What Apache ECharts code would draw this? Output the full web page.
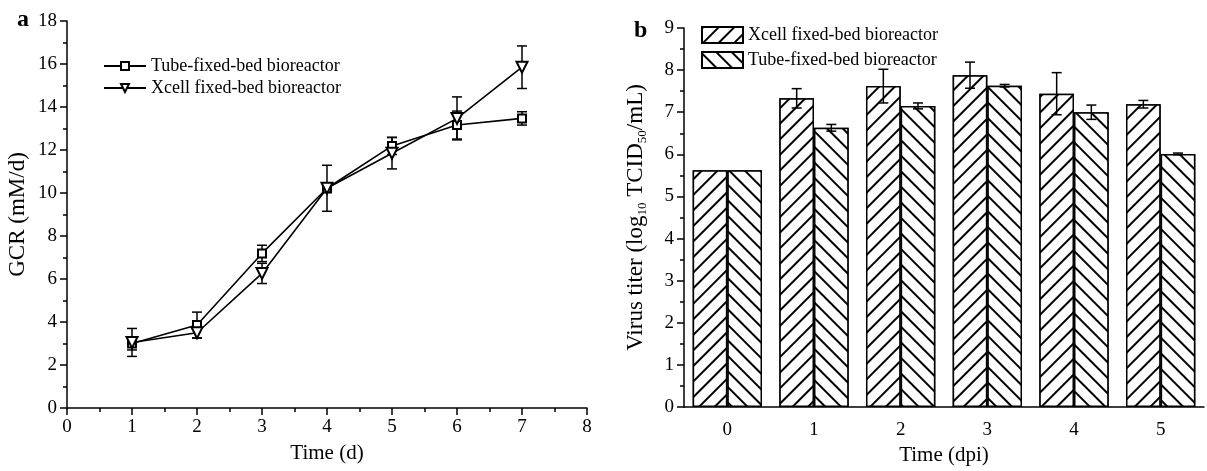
<!DOCTYPE html>
<html>
<head>
<meta charset="utf-8">
<script src="https://cdn.jsdelivr.net/npm/echarts@6/dist/echarts.min.js"></script>
<style>
  html, body { margin: 0; padding: 0; background: #fff; }
  #chart { width: 1207px; height: 471px; }
</style>
</head>
<body>
<div id="chart"></div>
<script>
// panel a: GCR vs time
var days = [1, 2, 3, 4, 5, 6, 7];
var tubeGcr = [3.0, 3.86, 7.19, 10.22, 12.19, 13.16, 13.47];
var tubeGcrErr = [0.3, 0.6, 0.38, 0.2, 0.4, 0.65, 0.31];
var xcellGcr = [3.05, 3.5, 6.26, 10.22, 11.85, 13.47, 15.85];
var xcellGcrErr = [0.65, 0.25, 0.47, 1.07, 0.73, 1.0, 0.99];

// panel b: virus titer
var dpi = ['0', '1', '2', '3', '4', '5'];
var xcellTiter = [5.62, 7.33, 7.62, 7.88, 7.44, 7.19];
var xcellTiterErr = [0, 0.23, 0.4, 0.31, 0.5, 0.09];
var tubeTiter = [5.62, 6.63, 7.15, 7.63, 7.0, 6.01];
var tubeTiterErr = [0, 0.08, 0.07, 0.03, 0.17, 0.02];

var FONT = "'Liberation Serif', 'Times New Roman', serif";

var chart = echarts.init(document.getElementById('chart'));

function pairs(xs, ys, es) {
  return xs.map(function (x, i) { return [x, ys[i], es[i]]; });
}

// draws an I-shaped error bar, shifted sideways for grouped bars
function errorBar(side) {
  return function (params, api) {
    var e = api.value(2);
    if (!e) return null;
    var x = api.value(0), y = api.value(1);
    var hi = api.coord([x, y + e]);
    var lo = api.coord([x, y - e]);
    var dx = 0;
    if (side) dx = side * api.size([1, 0])[0] * 0.8 / 4;
    var cx = hi[0] + dx, cap = 5;
    var st = { stroke: '#000', lineWidth: 1.5 };
    return {
      type: 'group',
      children: [
        { type: 'line', shape: { x1: cx, y1: hi[1], x2: cx, y2: lo[1] }, style: st },
        { type: 'line', shape: { x1: cx - cap, y1: hi[1], x2: cx + cap, y2: hi[1] }, style: st },
        { type: 'line', shape: { x1: cx - cap, y1: lo[1], x2: cx + cap, y2: lo[1] }, style: st }
      ]
    };
  };
}

var axisLine = { show: true, lineStyle: { color: '#000', width: 1.5 } };
var tickStyle = { lineStyle: { color: '#000', width: 1.5 } };
var labelStyle = { color: '#000', fontFamily: FONT, fontSize: 19 };
var xNameStyle = { color: '#000', fontFamily: FONT, fontSize: 21 };
var yNameStyle = { color: '#000', fontFamily: FONT, fontSize: 23 };

var xcellDecal = {
  symbol: 'rect', symbolSize: 1, dashArrayX: [1, 0], dashArrayY: [1.6, 8.4],
  rotation: -Math.PI / 4, color: '#000', backgroundColor: '#fff'
};
var tubeDecal = {
  symbol: 'rect', symbolSize: 1, dashArrayX: [1, 0], dashArrayY: [1.6, 8.4],
  rotation: Math.PI / 4, color: '#000', backgroundColor: '#fff'
};

var option = {
  backgroundColor: '#fff',
  animation: false,
  textStyle: { fontFamily: FONT },
  grid: [
    { left: 67, top: 21, width: 520, height: 387 },
    { left: 684, top: 28, width: 520, height: 387 }
  ],
  graphic: [
    { type: 'text', left: 17, top: 8, style: { text: 'a', fontFamily: FONT, fontSize: 24, fontWeight: 'bold', fill: '#000' } },
    { type: 'text', left: 634, top: 19, style: { text: 'b', fontFamily: FONT, fontSize: 24, fontWeight: 'bold', fill: '#000' } }
  ],
  legend: [
    {
      orient: 'vertical', left: 103, top: 57, itemGap: 4, padding: 0,
      itemWidth: 42, itemHeight: 10,
      textStyle: { color: '#000', fontFamily: FONT, fontSize: 18 },
      data: ['Tube-fixed-bed bioreactor', 'Xcell fixed-bed bioreactor']
    },
    {
      orient: 'vertical', left: 701, top: 26, itemGap: 7, padding: 0,
      itemWidth: 41, itemHeight: 16, icon: 'rect',
      textStyle: { color: '#000', fontFamily: FONT, fontSize: 18 },
      data: ['Xcell fixed-bed bioreactor ', 'Tube-fixed-bed bioreactor ']
    }
  ],
  xAxis: [
    {
      gridIndex: 0, type: 'value', min: 0, max: 8, interval: 1,
      name: 'Time (d)', nameLocation: 'middle', nameGap: 35, nameTextStyle: xNameStyle,
      axisLine: axisLine, axisTick: Object.assign({ length: 7 }, tickStyle),
      minorTick: Object.assign({ show: true, splitNumber: 2, length: 4 }, tickStyle),
      axisLabel: Object.assign({ margin: 10 }, labelStyle),
      splitLine: { show: false }
    },
    {
      gridIndex: 1, type: 'category', data: dpi,
      name: 'Time (dpi)', nameLocation: 'middle', nameGap: 38, nameTextStyle: xNameStyle,
      axisLine: axisLine, axisTick: Object.assign({ length: 7, alignWithLabel: true }, tickStyle),
      axisLabel: Object.assign({ margin: 14 }, labelStyle)
    },
    {
      // short ticks at the category boundaries
      gridIndex: 1, type: 'category', data: dpi, position: 'bottom',
      axisLine: { show: false }, axisLabel: { show: false },
      axisTick: Object.assign({ length: 4, alignWithLabel: false }, tickStyle)
    }
  ],
  yAxis: [
    {
      gridIndex: 0, type: 'value', min: 0, max: 18, interval: 2,
      name: 'GCR (mM/d)', nameLocation: 'middle', nameGap: 38, nameTextStyle: yNameStyle,
      axisLine: axisLine, axisTick: Object.assign({ show: true, length: 7 }, tickStyle),
      minorTick: Object.assign({ show: true, splitNumber: 2, length: 4 }, tickStyle),
      axisLabel: Object.assign({ margin: 10 }, labelStyle),
      splitLine: { show: false }
    },
    {
      gridIndex: 1, type: 'value', min: 0, max: 9, interval: 1,
      name: 'Virus titer (log{sub|10} TCID{sub|50}/mL)', nameLocation: 'middle', nameGap: 35,
      nameTextStyle: Object.assign({
        lineHeight: 26,
        rich: { sub: { fontFamily: FONT, fontSize: 13, color: '#000', verticalAlign: 'bottom', lineHeight: 26 } }
      }, yNameStyle),
      axisLine: axisLine, axisTick: Object.assign({ show: true, length: 7 }, tickStyle),
      minorTick: Object.assign({ show: true, splitNumber: 2, length: 4 }, tickStyle),
      axisLabel: Object.assign({ margin: 10 }, labelStyle),
      splitLine: { show: false }
    }
  ],
  series: [
    {
      name: 'Tube-fixed-bed bioreactor', type: 'line', xAxisIndex: 0, yAxisIndex: 0,
      data: days.map(function (d, i) { return [d, tubeGcr[i]]; }),
      symbol: 'emptyRect', symbolSize: 8,
      lineStyle: { color: '#000', width: 1.6 },
      itemStyle: { color: '#000', borderColor: '#000', borderWidth: 1.2 },
      z: 3
    },
    {
      name: 'Xcell fixed-bed bioreactor', type: 'line', xAxisIndex: 0, yAxisIndex: 0,
      data: days.map(function (d, i) { return [d, xcellGcr[i]]; }),
      symbol: 'emptyTriangle', symbolSize: 11, symbolRotate: 180,
      lineStyle: { color: '#000', width: 1.6 },
      itemStyle: { color: '#000', borderColor: '#000', borderWidth: 1.2 },
      z: 3
    },
    {
      type: 'custom', xAxisIndex: 0, yAxisIndex: 0,
      renderItem: errorBar(0), data: pairs(days, tubeGcr, tubeGcrErr), z: 2
    },
    {
      type: 'custom', xAxisIndex: 0, yAxisIndex: 0,
      renderItem: errorBar(0), data: pairs(days, xcellGcr, xcellGcrErr), z: 2
    },
    {
      name: 'Xcell fixed-bed bioreactor ', type: 'bar', xAxisIndex: 1, yAxisIndex: 1,
      data: xcellTiter, barGap: 0, barCategoryGap: '20%',
      itemStyle: { color: '#fff', borderColor: '#000', borderWidth: 1.5, decal: xcellDecal }
    },
    {
      name: 'Tube-fixed-bed bioreactor ', type: 'bar', xAxisIndex: 1, yAxisIndex: 1,
      data: tubeTiter, barGap: 0, barCategoryGap: '20%',
      itemStyle: { color: '#fff', borderColor: '#000', borderWidth: 1.5, decal: tubeDecal }
    },
    {
      type: 'custom', xAxisIndex: 1, yAxisIndex: 1, z: 5,
      renderItem: errorBar(-1),
      data: dpi.map(function (c, i) { return [i, xcellTiter[i], xcellTiterErr[i]]; })
    },
    {
      type: 'custom', xAxisIndex: 1, yAxisIndex: 1, z: 5,
      renderItem: errorBar(1),
      data: dpi.map(function (c, i) { return [i, tubeTiter[i], tubeTiterErr[i]]; })
    }
  ]
};

chart.setOption(option);
</script>
</body>
</html>
